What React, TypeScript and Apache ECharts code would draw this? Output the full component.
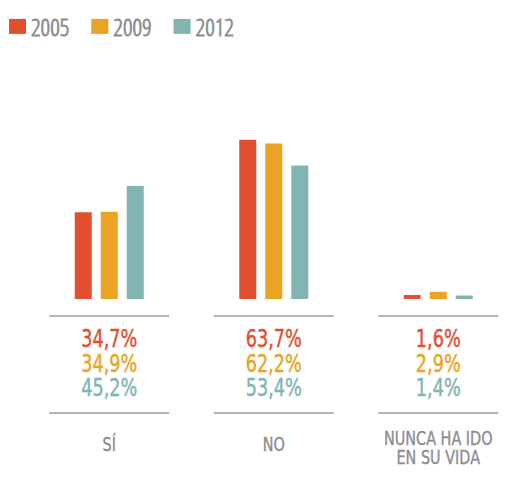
import React, { useEffect, useRef } from "react";
import * as echarts from "echarts";

const categories = ["SÍ", "NO", "NUNCA HA IDO\nEN SU VIDA"];
const years = ["2005", "2009", "2012"];
const values2005 = [34.7, 63.7, 1.6];
const values2009 = [34.9, 62.2, 2.9];
const values2012 = [45.2, 53.4, 1.4];
const seriesValues = [values2005, values2009, values2012];
const colors = ["#E14F30", "#E9A424", "#82B5B1"];

const LEGEND_FONT = "'Open Sans Condensed Light', 'DejaVu Sans', sans-serif";
const FONT = "'DejaVu Sans', sans-serif";
const GREY = "#8C8C91";

const fmt = (v: number) => v.toFixed(1).replace(".", ",") + "%";

export default function App() {
  const ref = useRef<HTMLDivElement>(null);
  useEffect(() => {
    if (!ref.current) return;
    const chart = echarts.init(ref.current, undefined, { renderer: "svg" });
    const barSeries = years.map((y, i) => ({
      name: y,
      type: "bar",
      data: seriesValues[i],
      barWidth: 17,
      barGap: "53%",
      itemStyle: { color: colors[i] },
    }));
    chart.setOption({
      animation: false,
      color: colors,
      legend: {
        data: years,
        left: 9,
        top: 14,
        padding: 0,
        itemWidth: 17,
        itemHeight: 15,
        itemGap: 21.5,
        icon: "rect",
        textStyle: {
          color: GREY,
          fontSize: 24,
          fontFamily: LEGEND_FONT,
          textBorderColor: GREY,
          textBorderWidth: 0.8,
        },
      },
      grid: { left: 27, right: 4.5, top: 134, bottom: 181 },
      xAxis: {
        type: "category",
        data: categories,
        axisLine: { show: false },
        axisTick: { show: false },
        axisLabel: { show: false },
        splitLine: { show: false },
      },
      yAxis: {
        type: "value",
        min: 0,
        max: 66,
        show: false,
        splitLine: { show: false },
      },
      series: [
        ...barSeries,
        {
          type: "custom",
          name: "table",
          coordinateSystem: "cartesian2d",
          clip: false,
          silent: true,
          data: categories.map((_, i) => [i, 0]),
          encode: { x: 0, y: 1 },
          renderItem: (params: any, api: any) => {
            const idx = params.dataIndex;
            const [cx, by] = api.coord([idx, 0]);
            const half = 60;
            const lineStyle = { stroke: "#9A9A9A", lineWidth: 1.3 };
            const children: any[] = [
              { type: "line", shape: { x1: cx - half, y1: by + 17, x2: cx + half, y2: by + 17 }, style: lineStyle },
              { type: "line", shape: { x1: cx - half, y1: by + 114, x2: cx + half, y2: by + 114 }, style: lineStyle },
            ];
            seriesValues.forEach((vals, k) => {
              children.push({
                type: "text",
                x: cx,
                y: by + 39.5 + k * 24.5,
                scaleX: 0.72,
                style: {
                  text: fmt(vals[idx]),
                  fill: colors[k],
                  stroke: colors[k],
                  lineWidth: 0.5,
                  fontFamily: FONT,
                  fontSize: 24.5,
                  lineHeight: 24.5,
                  align: "center",
                  verticalAlign: "middle",
                },
              });
            });
            const label = categories[idx];
            const nLines = label.split("\n").length;
            children.push({
              type: "text",
              x: cx,
              y: by + 145.5 + (nLines - 1) * 3.5,
              scaleX: 0.74,
              style: {
                text: label,
                fill: GREY,
                stroke: GREY,
                lineWidth: 0.4,
                fontFamily: FONT,
                fontSize: 19.5,
                lineHeight: 19,
                align: "center",
                verticalAlign: "middle",
              },
            });
            return { type: "group", children };
          },
        },
      ],
    });
    return () => chart.dispose();
  }, []);
  return (
    <div
      ref={ref}
      style={{ position: "fixed", left: 0, top: 0, width: 525, height: 480, background: "#fff" }}
    />
  );
}
